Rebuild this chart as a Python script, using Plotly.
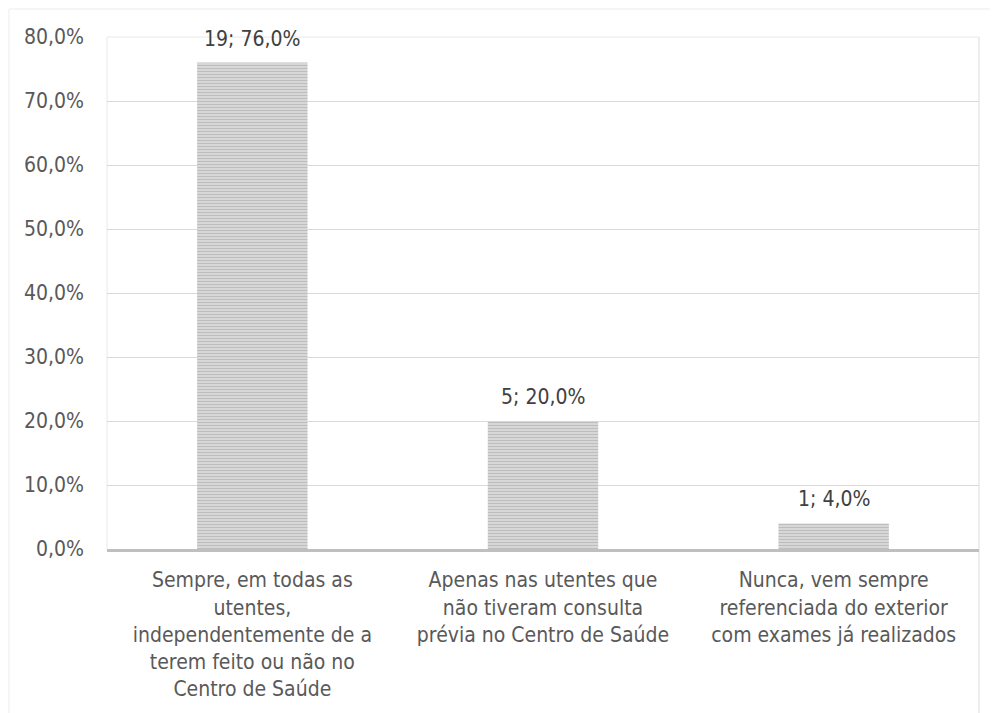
import plotly.graph_objects as go

# data
categorias = [
    "Sempre, em todas as<br>utentes,<br>independentemente de a<br>terem feito ou não no<br>Centro de Saúde",
    "Apenas nas utentes que<br>não tiveram consulta<br>prévia no Centro de Saúde",
    "Nunca, vem sempre<br>referenciada do exterior<br>com exames já realizados",
]
contagens = [19, 5, 1]
percentagens = [76.0, 20.0, 4.0]

rotulos = [f"{n}; {p:.1f}%".replace(".", ",") for n, p in zip(contagens, percentagens)]

fonte = "DejaVu Sans Condensed, Liberation Sans Narrow, Roboto, sans-serif"

fig = go.Figure()
fig.add_trace(
    go.Bar(
        x=categorias,
        y=percentagens,
        marker=dict(
            color="#dcdcdc",
            line=dict(width=0),
            pattern=dict(shape="-", fgcolor="#999999", bgcolor="#e0e0e0", size=3, solidity=0.5),
        ),
        width=0.38,
    )
)

# value labels above the bars
for cat, val, txt in zip(categorias, percentagens, rotulos):
    fig.add_annotation(
        x=cat, y=val, text=txt, showarrow=False,
        yanchor="bottom", yshift=10,
        font=dict(size=21, color="#404040", family=fonte),
    )

# chart area border and plot area frame (light grey, like the Excel export)
fig.add_shape(type="line", xref="paper", yref="paper", x0=-0.1124, x1=1.05, y0=1.0547, y1=1.0547,
              line=dict(color="#ececec", width=1), layer="below")
fig.add_shape(type="line", xref="paper", yref="paper", x0=-0.1124, x1=-0.1124, y0=1.0547, y1=-0.35,
              line=dict(color="#ececec", width=1), layer="below")
fig.add_shape(type="line", xref="paper", yref="paper", x0=0, x1=1, y0=1, y1=1,
              line=dict(color="#e8e8e8", width=1), layer="below")
fig.add_shape(type="line", xref="paper", yref="paper", x0=0, x1=0, y0=0, y1=1,
              line=dict(color="#e8e8e8", width=1), layer="below")
fig.add_shape(type="line", xref="paper", yref="paper", x0=1, x1=1, y0=-0.35, y1=1,
              line=dict(color="#e8e8e8", width=1.5), layer="below")

# page adds an 8px body margin, so margins are shifted by that amount
fig.update_layout(
    width=998,
    height=713,
    margin=dict(l=99, r=27, t=29, b=172),
    paper_bgcolor="white",
    plot_bgcolor="white",
    separators=", ",
    showlegend=False,
    bargap=0.62,
    font=dict(family=fonte, size=21, color="#595959"),
)
fig.update_yaxes(
    range=[0, 80],
    dtick=10,
    tickformat=".1f",
    ticksuffix="%",
    showgrid=True,
    gridcolor="#d9d9d9",
    gridwidth=1,
    zeroline=False,
    showline=False,
    ticks="",
    ticklabelstandoff=22,
    tickfont=dict(size=21, color="#595959"),
)
fig.update_xaxes(
    showline=True,
    linecolor="#bfbfbf",
    linewidth=3,
    ticks="",
    tickfont=dict(size=21, color="#595959"),
    ticklabelstandoff=10,
)

fig.write_html("out.html")
